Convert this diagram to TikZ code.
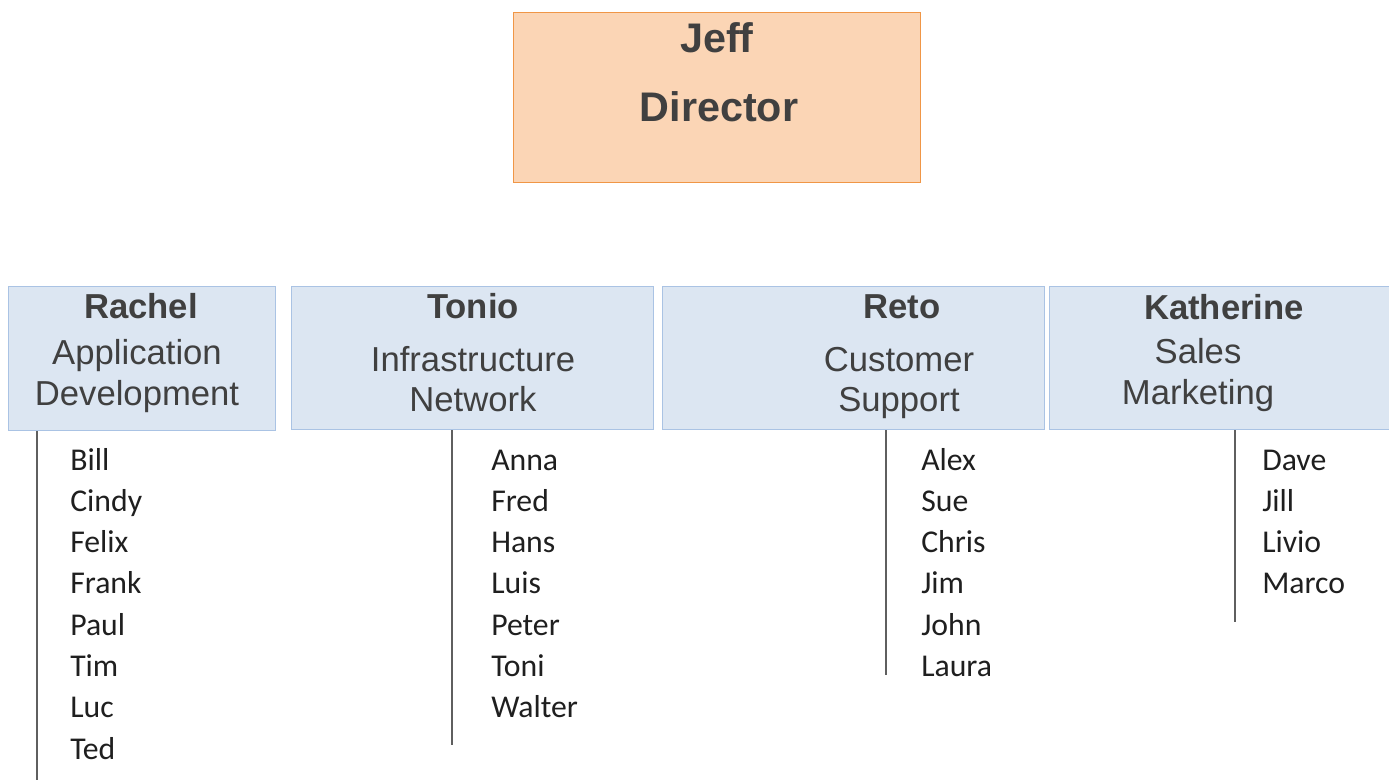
\documentclass[tikz,border=0pt]{standalone}
\usepackage{fontspec}
\setmainfont{Liberation Sans}
\newfontfamily\namefont{Carlito}
\definecolor{peach}{RGB}{251,213,181}
\definecolor{peachline}{RGB}{240,150,70}
\definecolor{paleblue}{RGB}{220,230,242}
\definecolor{paleline}{RGB}{170,195,228}
\definecolor{inkgrey}{RGB}{64,64,64}
\definecolor{stemgrey}{RGB}{95,95,95}
\tikzset{
  bossbox/.style={draw=peachline,fill=peach,line width=0.75pt,inner sep=0pt},
  deptbox/.style={draw=paleline,fill=paleblue,line width=0.75pt,inner sep=0pt},
  bosstext/.style={font=\bfseries\fontsize{31}{37}\selectfont,text=inkgrey,inner sep=0pt,anchor=base},
  head/.style={font=\bfseries\fontsize{26}{31}\selectfont,text=inkgrey,inner sep=0pt,anchor=base},
  role/.style={font=\fontsize{26}{31}\selectfont,text=inkgrey,inner sep=0pt,anchor=base},
  member/.style={font=\namefont\fontsize{23.8}{28}\selectfont,text=black!88,inner sep=0pt,anchor=base west},
  stem/.style={draw=stemgrey,line width=1.6pt}
}
\begin{document}
\begin{tikzpicture}[x=0.75pt,y=-0.75pt]
    \useasboundingbox (0,0) rectangle (1389,780);
    % director
    \node[bossbox,minimum width=305.25pt,minimum height=127.5pt] (jeff) at (716.5,98) {};
    \node[bosstext] (jeff-name) at (717,53) {Jeff};
    \node[bosstext] (jeff-role) at (719,122) {Director};
    % departments
    \node[deptbox,minimum width=200.25pt,minimum height=108pt] (rachel) at (141.5,359) {};
    \node[head] (rachel-name) at (141,319) {Rachel};
    \node[role] (rachel-role1) at (137,365) {Application};
    \node[role] (rachel-role2) at (137,406) {Development};

    \node[deptbox,minimum width=271.5pt,minimum height=107.25pt] (tonio) at (472,358.5) {};
    \node[head] (tonio-name) at (473,319) {Tonio};
    \node[role] (tonio-role1) at (473,372) {Infrastructure};
    \node[role] (tonio-role2) at (473,412) {Network};

    \node[deptbox,minimum width=286.5pt,minimum height=107.25pt] (reto) at (853,358.5) {};
    \node[head] (reto-name) at (902,319) {Reto};
    \node[role] (reto-role1) at (899,372) {Customer};
    \node[role] (reto-role2) at (899,412) {Support};

    \node[deptbox,minimum width=263.25pt,minimum height=107.25pt] (katherine) at (1224.5,358.5) {};
    \node[head] (katherine-name) at (1224,320) {Katherine};
    \node[role] (katherine-role1) at (1198,364) {Sales};
    \node[role] (katherine-role2) at (1198,405) {Marketing};
    % staff lists
    \foreach \n [count=\i] in {Bill,Cindy,Felix,Frank,Paul,Tim,Luc,Ted}
        \node[member] (rachel-\i) at (70,{428.7+41.3*\i}) {\n};
    \foreach \n [count=\i] in {Anna,Fred,Hans,Luis,Peter,Toni,Walter}
        \node[member] (tonio-\i) at (491,{428.7+41.3*\i}) {\n};
    \foreach \n [count=\i] in {Alex,Sue,Chris,Jim,John,Laura}
        \node[member] (reto-\i) at (921,{428.7+41.3*\i}) {\n};
    \foreach \n [count=\i] in {Dave,Jill,Livio,Marco}
        \node[member] (katherine-\i) at (1262,{428.7+41.3*\i}) {\n};
    % stems
    \coordinate (rachel-end) at (37,780);
    \coordinate (tonio-end) at (452,745);
    \coordinate (reto-end) at (886,675);
    \coordinate (katherine-end) at (1235,622);
    \foreach \d in {rachel,tonio,reto,katherine}
        \draw[stem] (\d.south -| \d-end) -- (\d-end);
\end{tikzpicture}
\end{document}
